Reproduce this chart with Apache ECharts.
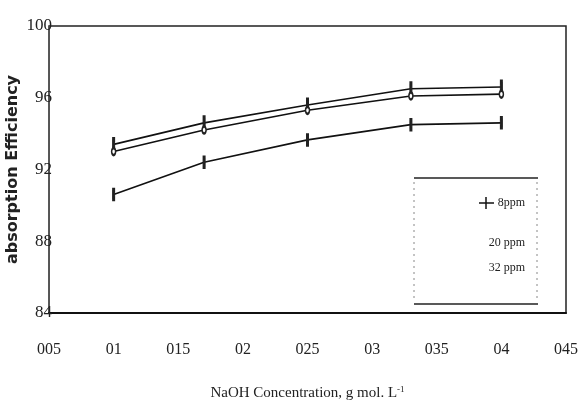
<!DOCTYPE html>
<html><head><meta charset="utf-8">
<script src="https://cdn.jsdelivr.net/npm/echarts@6/dist/echarts.min.js"></script>
<style>html,body{margin:0;padding:0;background:#fff}#c{width:581px;height:406px}</style>
</head><body><div id="c"></div>
<script>
const xValues = [0.1, 0.17, 0.25, 0.33, 0.4];
const seriesNames = ['8ppm', '20 ppm', '32 ppm'];
const s8 = [93.4, 94.6, 95.6, 96.5, 96.6];
const s20 = [93.0, 94.2, 95.3, 96.1, 96.2];
const s32 = [90.6, 92.4, 93.65, 94.5, 94.6];
const xTickLabels = ['005','01','015','02','025','03','035','04','045'];
const yTickLabels = ['84','88','92','96','100'];

const chart = echarts.init(document.getElementById('c'));
const serif = '"Liberation Serif", "DejaVu Serif", serif';
function mk(name, vals, sym, size){
  return {name, type:'line', data: xValues.map((x,i)=>[x, vals[i]]),
    symbol: sym, symbolSize: size, showSymbol:true,
    lineStyle:{color:'#111', width:1.6},
    itemStyle:{color:'#222', borderColor:'#222', borderWidth:1},
    animation:false};
}
chart.setOption({
  backgroundColor:'#fff',
  animation:false,
  grid:{left:49, top:26, right:15, bottom:93, show:true, borderColor:'#222', borderWidth:1.5,
    containLabel:false, outerBoundsMode:'none'},
  xAxis:{type:'value', min:0.05, max:0.45, interval:0.05,
    axisLine:{show:true, lineStyle:{color:'#111', width:2}},
    axisTick:{show:false}, splitLine:{show:false},
    axisLabel:{margin:29, fontFamily:serif, fontSize:16, color:'#222',
      formatter: v => xTickLabels[Math.round((v-0.05)/0.05)]},
    name:'NaOH Concentration, g mol. L{sup|-1}', nameLocation:'middle', nameGap:72,
    nameMoveOverlap:false,
    nameTextStyle:{fontFamily:serif, fontSize:15, color:'#222',
      rich:{sup:{fontFamily:serif, fontSize:9, verticalAlign:'top', padding:[0,0,8,0], color:'#222'}}}
  },
  yAxis:{type:'value', min:84, max:100, interval:4,
    axisLine:{show:true, lineStyle:{color:'#555', width:1}},
    axisTick:{show:false}, splitLine:{show:false},
    axisLabel:{margin:-3, fontFamily:serif, fontSize:17, color:'#222',
      formatter: v => yTickLabels[Math.round((v-84)/4)]},
    name:'absorption Efficiency', nameLocation:'middle', nameGap:28, nameRotate:90,
    nameMoveOverlap:false,
    nameTextStyle:{fontFamily:'"DejaVu Sans", sans-serif', fontWeight:'bold', fontSize:16, color:'#222'}
  },
  series:[
    mk(seriesNames[0], s8, 'rect', [2,10]),
    mk(seriesNames[1], s20, 'emptyCircle', [4,7]),
    mk(seriesNames[2], s32, 'rect', [2,9])
  ],
  graphic:[
    {type:'line', shape:{x1:414,y1:178,x2:538,y2:178}, style:{stroke:'#222', lineWidth:1.5}},
    {type:'line', shape:{x1:414,y1:304,x2:538,y2:304}, style:{stroke:'#222', lineWidth:1.5}},
    {type:'line', shape:{x1:414,y1:182,x2:414,y2:302}, style:{stroke:'#888', lineWidth:1, lineDash:[2,4]}},
    {type:'line', shape:{x1:537,y1:182,x2:537,y2:302}, style:{stroke:'#888', lineWidth:1, lineDash:[2,4]}},
    {type:'line', shape:{x1:479,y1:203,x2:494,y2:203}, style:{stroke:'#111', lineWidth:1.5}},
    {type:'line', shape:{x1:486,y1:197,x2:486,y2:209}, style:{stroke:'#111', lineWidth:1.5}},
    {type:'text', x:525, y:203, style:{text:seriesNames[0], align:'right', verticalAlign:'middle', font:'12px "Liberation Serif", serif', fill:'#222'}},
    {type:'text', x:525, y:243, style:{text:seriesNames[1], align:'right', verticalAlign:'middle', font:'12px "Liberation Serif", serif', fill:'#222'}},
    {type:'text', x:525, y:268, style:{text:seriesNames[2], align:'right', verticalAlign:'middle', font:'12px "Liberation Serif", serif', fill:'#222'}}
  ]
});
</script></body></html>
